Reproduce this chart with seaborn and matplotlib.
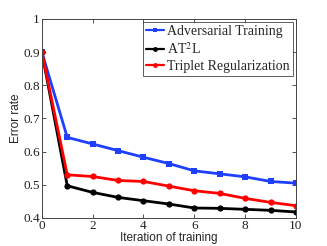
import matplotlib
matplotlib.use("Agg")
import matplotlib.pyplot as plt
import seaborn as sns
import pandas as pd

# -----------------------------
# Data
# -----------------------------
iterations = [0, 1, 2, 3, 4, 5, 6, 7, 8, 9, 10]
adversarial = [0.900, 0.643, 0.623, 0.603, 0.583, 0.564, 0.542, 0.533, 0.524, 0.510, 0.505]
at2l = [0.900, 0.497, 0.477, 0.462, 0.452, 0.442, 0.430, 0.429, 0.426, 0.423, 0.418]
triplet = [0.900, 0.530, 0.525, 0.513, 0.510, 0.496, 0.482, 0.474, 0.459, 0.447, 0.437]

series_names = ["Adversarial Training", r"AT$^2$L", "Triplet Regularization"]
series_colors = ["#1f3fff", "#000000", "#ff0000"]
series_markers = ["s", "o", "o"]
x_ticks = [0, 2, 4, 6, 8, 10]
y_ticks = [0.4, 0.5, 0.6, 0.7, 0.8, 0.9, 1]
y_tick_labels = ["0.4", "0.5", "0.6", "0.7", "0.8", "0.9", "1"]

df = pd.DataFrame({
    "iteration": iterations * 3,
    "error": adversarial + at2l + triplet,
    "method": [series_names[0]] * len(iterations)
              + [series_names[1]] * len(iterations)
              + [series_names[2]] * len(iterations),
})

# -----------------------------
# Plot
# -----------------------------
sns.set_theme(style="white")
plt.rcParams["mathtext.fontset"] = "stix"

fig = plt.figure(figsize=(3.27, 2.46), dpi=100)
ax = fig.add_axes([0.128, 0.114, 0.777, 0.809])

sns.lineplot(data=df, x="iteration", y="error", hue="method", style="method",
             palette=dict(zip(series_names, series_colors)),
             markers=dict(zip(series_names, series_markers)),
             dashes=False, linewidth=2.0, markersize=4.5, markeredgewidth=0,
             ax=ax)

ax.set_xlim(0, 10)
ax.set_ylim(0.4, 1)
ax.set_xticks(x_ticks)
ax.set_yticks(y_ticks)
ax.set_yticklabels(y_tick_labels)
for lbl in ax.get_xticklabels() + ax.get_yticklabels():
    lbl.set_family("Liberation Serif")
    lbl.set_fontsize(9.5)
ax.tick_params(direction="in", length=3, width=0.6, colors="#333333",
               top=True, right=True, bottom=True, left=True, pad=1.5)
ax.tick_params(labelcolor="#222222")
for spine in ax.spines.values():
    spine.set_linewidth(0.7)
    spine.set_color("#444444")

ax.set_xlabel("Iteration of training", family="Liberation Sans", fontsize=8.5, labelpad=0)
ax.set_ylabel("Error rate", family="Liberation Sans", fontsize=8.5, labelpad=1)

leg = ax.legend(loc="upper right", title=None, frameon=True, fancybox=False,
                prop={"family": "Liberation Serif", "size": 10},
                handlelength=1.3, handletextpad=0.2, borderpad=0.25,
                labelspacing=0.2, borderaxespad=0.2)
leg.get_frame().set_edgecolor("#333333")
leg.get_frame().set_linewidth(0.7)
for line in leg.get_lines():
    line.set_linewidth(1.6)
    line.set_markersize(3.5)

fig.savefig("out.png", dpi=100)
